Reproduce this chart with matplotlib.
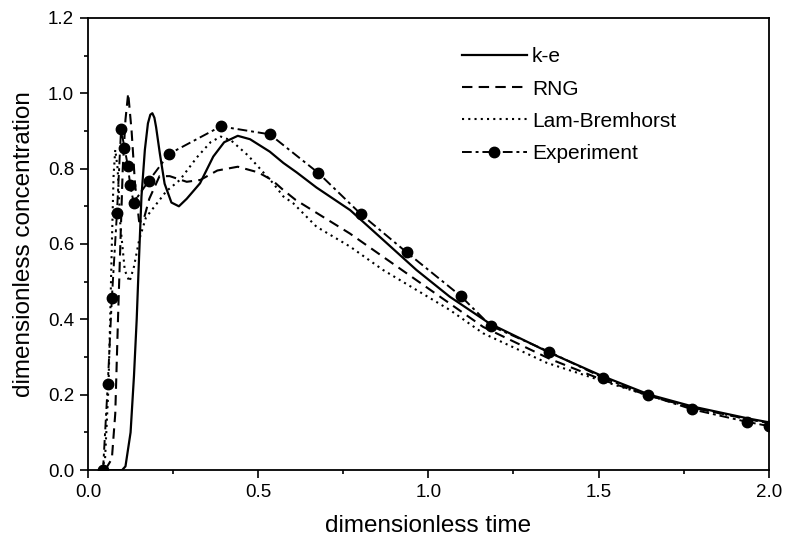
import matplotlib
matplotlib.use("Agg")
import matplotlib.pyplot as plt

plt.rcParams['font.family'] = ['Liberation Sans', 'DejaVu Sans']

# k-e model (solid)
ke_x = [0.04, 0.10, 0.11, 0.125, 0.135, 0.143, 0.148, 0.157, 0.167, 0.176, 0.183,
        0.189, 0.195, 0.20, 0.211, 0.225, 0.245, 0.267, 0.29, 0.329, 0.368, 0.40,
        0.44, 0.476, 0.534, 0.574, 0.613, 0.671, 0.77, 0.867, 0.965, 1.063, 1.18,
        1.36, 1.51, 1.65, 1.78, 1.94, 2.0]
ke_y = [0.0, 0.0, 0.01, 0.10, 0.25, 0.40, 0.52, 0.726, 0.85, 0.92, 0.943,
        0.947, 0.935, 0.91, 0.84, 0.76, 0.71, 0.70, 0.72, 0.761, 0.832, 0.87,
        0.887, 0.878, 0.845, 0.815, 0.79, 0.75, 0.69, 0.611, 0.531, 0.46, 0.389,
        0.31, 0.25, 0.20, 0.168, 0.137, 0.127]

# RNG model (dashed)
rng_x = [0.05, 0.07, 0.08, 0.088, 0.095, 0.102, 0.11, 0.118, 0.128, 0.138, 0.15,
         0.162, 0.18, 0.21, 0.24, 0.29, 0.33, 0.38, 0.44, 0.50, 0.54, 0.574, 0.61,
         0.769, 0.965, 1.161, 1.357, 1.51, 1.65, 1.78, 1.94, 2.0]
rng_y = [0.0, 0.03, 0.15, 0.40, 0.60, 0.80, 0.93, 1.0, 0.90, 0.76, 0.66,
         0.66, 0.72, 0.78, 0.78, 0.765, 0.77, 0.795, 0.805, 0.79, 0.77, 0.743, 0.717,
         0.628, 0.504, 0.38, 0.295, 0.24, 0.197, 0.165, 0.135, 0.125]

# Lam-Bremhorst model (dotted)
lb_x = [0.04, 0.05, 0.06, 0.065, 0.07, 0.075, 0.08, 0.087, 0.095, 0.108, 0.122,
        0.135, 0.15, 0.17, 0.20, 0.23, 0.27, 0.32, 0.36, 0.39, 0.42, 0.47, 0.544,
        0.574, 0.603, 0.671, 0.77, 0.867, 0.965, 1.063, 1.161, 1.347, 1.51, 1.65,
        1.78, 1.94, 2.0]
lb_y = [0.0, 0.03, 0.22, 0.40, 0.60, 0.78, 0.85, 0.80, 0.65, 0.53, 0.50,
        0.54, 0.61, 0.67, 0.705, 0.74, 0.77, 0.83, 0.87, 0.885, 0.875, 0.835, 0.761,
        0.726, 0.708, 0.646, 0.593, 0.531, 0.478, 0.425, 0.363, 0.285, 0.237, 0.197,
        0.165, 0.135, 0.125]

# Experiment (dash-dot with markers)
exp_x = [0.044, 0.058, 0.07, 0.085, 0.097, 0.107, 0.117, 0.124, 0.134, 0.178,
         0.238, 0.39, 0.534, 0.676, 0.802, 0.936, 1.095, 1.183, 1.355, 1.513,
         1.646, 1.776, 1.937, 2.0]
exp_y = [0.0, 0.228, 0.456, 0.683, 0.904, 0.856, 0.807, 0.756, 0.710, 0.767,
         0.839, 0.912, 0.891, 0.789, 0.679, 0.578, 0.462, 0.383, 0.314, 0.245,
         0.199, 0.161, 0.128, 0.117]

fig = plt.figure(figsize=(7.86, 5.41), dpi=100)
ax = fig.add_axes([0.112, 0.131, 0.866, 0.836])

ax.plot(ke_x, ke_y, color='black', lw=1.6, ls='-', label='k-e')
ax.plot(rng_x, rng_y, color='black', lw=1.5, ls=(0, (5, 3)), label='RNG')
ax.plot(lb_x, lb_y, color='black', lw=1.5, ls=(0, (1, 2)), label='Lam-Bremhorst')
ax.plot(exp_x, exp_y, color='black', lw=1.4, ls=(0, (5, 2, 1.5, 2)),
        marker='o', markersize=7.5, label='Experiment')

ax.set_xlim(0.0, 2.0)
ax.set_ylim(0.0, 1.2)
ax.set_xticks([0.0, 0.5, 1.0, 1.5, 2.0])
ax.set_xticks([0.25, 0.75, 1.25, 1.75], minor=True)
ax.set_yticks([0.0, 0.2, 0.4, 0.6, 0.8, 1.0, 1.2])
ax.set_yticks([0.1, 0.3, 0.5, 0.7, 0.9, 1.1], minor=True)
ax.tick_params(which='major', direction='out', length=6, width=1.2, labelsize=13.5, pad=4)
ax.tick_params(which='minor', direction='out', length=3, width=1.2)
for s in ax.spines.values():
    s.set_linewidth(1.3)

ax.set_xlabel('dimensionless time', fontsize=17.5, labelpad=10)
ax.set_ylabel('dimensionless concentration', fontsize=17.5, labelpad=9)

ax.legend(loc='upper left', bbox_to_anchor=(0.564, 0.947), bbox_transform=fig.transFigure,
          frameon=False, fontsize=15, handlelength=3.1, handletextpad=0.25,
          labelspacing=0.63)

fig.savefig('out.png', dpi=100)
